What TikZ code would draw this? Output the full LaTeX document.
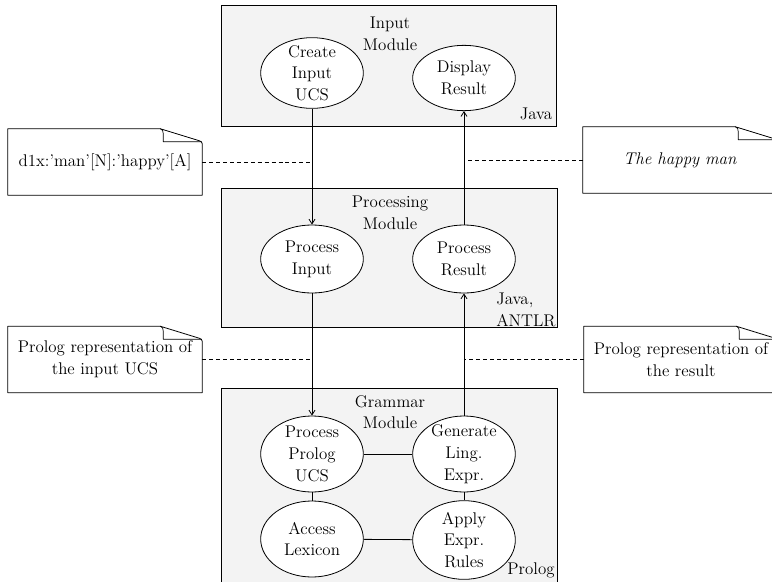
\documentclass[tikz,border=0pt]{standalone}
\usetikzlibrary{shapes.geometric,arrows.meta,calc}
\definecolor{boxgray}{HTML}{F3F3F3}
\tikzset{
  base/.style={font=\fontsize{12.7pt}{16.3pt}\selectfont},
  module/.style={draw=black,line width=0.7pt,fill=boxgray},
  proc/.style={base,draw=black,line width=0.6pt,fill=white,ellipse,inner sep=0pt,
     minimum width=77pt,minimum height=52pt},
  ptext/.style={base,align=center,inner sep=0pt},
  title/.style={base,align=center,inner sep=0pt},
  notebox/.style={base,align=center,inner sep=0pt,minimum width=145.5pt,minimum height=49.5pt},
  conn/.style={line width=0.6pt},
  flow/.style={line width=0.6pt,-{Straight Barb[length=3.5pt,width=4.5pt]}},
  dashlink/.style={line width=0.6pt,dash pattern=on 3pt off 2.2pt},
  noteline/.style={line width=0.6pt,line join=round},
}
\begin{document}
\begin{tikzpicture}[x=0.75pt,y=-0.75pt]
\useasboundingbox (0,0) rectangle (772,582);
\clip (0,0) rectangle (772,582);
\fill[white] (0,0) rectangle (772,582);

% module boxes
\draw[module] (221,5) rectangle (556,126);
\draw[module] (221,188) rectangle (557,327);
\draw[module] (221,388) rectangle (557,584);

% module titles
\node[title] (tin) at (390,34) {Input\\Module};
\node[title] (tpm) at (390,213) {Processing\\Module};
\node[title] (tgm) at (390,412) {Grammar\\Module};
\node[base,inner sep=0pt] (java) at (536,114) {Java};
\node[base,align=left,inner sep=0pt,anchor=west] (jant) at (496,310) {Java,\\ANTLR};
\node[base,inner sep=0pt] (prolog) at (531,570) {Prolog};

% processes
\node[proc,minimum height=53pt] (ci) at (312,73) {};
\node[ptext] at (ci) {Create\\Input\\UCS};
\node[proc,minimum height=49pt] (dr) at (464,78) {};
\node[ptext] at (dr) {Display\\Result};
\node[proc,minimum height=51pt] (pi) at (312,259) {};
\node[ptext] at (pi) {Process\\Input};
\node[proc,minimum height=51pt] (pr) at (464,259) {};
\node[ptext] at (pr) {Process\\Result};
\node[proc,minimum height=57pt] (pp) at (312,454) {};
\node[ptext] at (pp) {Process\\Prolog\\UCS};
\node[proc,minimum height=57pt] (gl) at (464,454) {};
\node[ptext] at (gl) {Generate\\Ling.\\Expr.};
\node[proc,minimum height=57pt] (al) at (312,539) {};
\node[ptext] at (al) {Access\\Lexicon};
\node[proc,minimum height=59pt] (ae) at (464,540) {};
\node[ptext] at (ae) {Apply\\Expr.\\Rules};

% grammar connections
\draw[conn] (pp) -- (gl);
\draw[conn] (al) -- (ae);
\draw[conn] (pp) -- (al);
\draw[conn] (gl) -- (ae);

% flows
\draw[flow] (ci.south) -- (pi.north);
\draw[flow] (pi.south) -- (pp.north);
\draw[flow] (gl.north) -- (pr.south);
\draw[flow] (pr.north) -- (dr.south);

% notes
\node[notebox] (n1) at (105,162) {};
\node[notebox] (n2) at (680,160) {};
\node[notebox] (n3) at (105,359.5) {};
\node[notebox] (n4) at (681,359.5) {};

\foreach \n in {n1,n2,n3,n4}{
  \draw[noteline,fill=white] (\n.south west) -- (\n.north west)
     -- ($(\n.north east)+(-42,0)$)
     -- ($(\n.north east)+(-3,12)$) to[out=-20,in=90] ($(\n.north east)+(0,15)$)
     -- (\n.south east) -- cycle;
  \draw[noteline,line width=0.5pt] ($(\n.north east)+(-42,0)$) to[out=0,in=90] ($(\n.north east)+(-39,5)$)
     -- ($(\n.north east)+(-39,13)$) -- ($(\n.north east)+(-1,13)$);
}
\node[notebox] (t1) at (n1) {d1x:'man'[N]:'happy'[A]};
\node[notebox] (t2) at (n2) {\itshape The happy man};
\node[notebox] (t3) at (n3) {Prolog representation of\\the input UCS};
\node[notebox] (t4) at (n4) {Prolog representation of\\the result};

% dashed links
\draw[dashlink] (n1.east) -- (n1.east -| ci.south);
\draw[dashlink] (n2.west) -- (n2.west -| dr.south);
\draw[dashlink] (n3.east) -- (n3.east -| pi.south);
\draw[dashlink] (n4.west) -- (n4.west -| gl.north);
\end{tikzpicture}
\end{document}
